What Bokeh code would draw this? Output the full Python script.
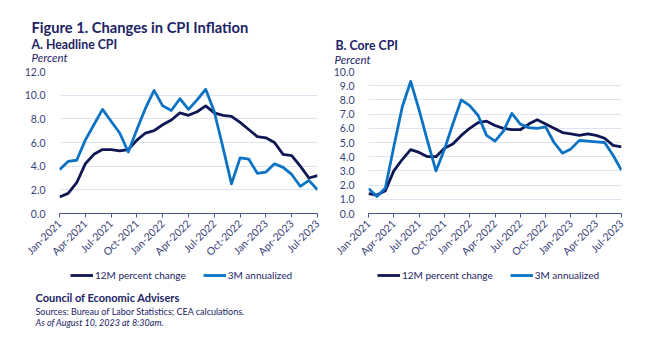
import math
import pandas as pd
from bokeh.plotting import figure
from bokeh.models import (FixedTicker, Legend, LegendItem, Label, Range1d,
                          PrintfTickFormatter)
from bokeh.layouts import row, column
from bokeh.embed import file_html
from bokeh.resources import INLINE

months = pd.date_range("2021-01-01", "2023-07-01", freq="MS")
month_labels = [d.strftime("%b-%Y") for d in months]
tick_every = 3

headline_12m = [1.4, 1.7, 2.6, 4.2, 5.0, 5.4, 5.4, 5.3, 5.4, 6.2, 6.8, 7.0,
                7.5, 7.9, 8.5, 8.3, 8.6, 9.1, 8.5, 8.3, 8.2, 7.7, 7.1, 6.5,
                6.4, 6.0, 5.0, 4.9, 4.0, 3.0, 3.2]
headline_3m = [3.7, 4.4, 4.5, 6.2, 7.5, 8.8, 7.8, 6.8, 5.2, 7.1, 8.9, 10.4,
               9.1, 8.7, 9.7, 8.8, 9.6, 10.5, 8.6, 5.6, 2.5, 4.7, 4.6, 3.4,
               3.5, 4.2, 3.9, 3.3, 2.3, 2.8, 2.0]
core_12m = [1.4, 1.3, 1.6, 3.0, 3.8, 4.5, 4.3, 4.0, 4.0, 4.6, 4.9, 5.5,
            6.0, 6.4, 6.5, 6.2, 6.0, 5.9, 5.9, 6.3, 6.6, 6.3, 6.0, 5.7,
            5.6, 5.5, 5.6, 5.5, 5.3, 4.8, 4.7]
core_3m = [1.75, 1.2, 1.8, 4.7, 7.5, 9.3, 7.3, 5.1, 3.0, 4.5, 6.3, 8.0,
           7.6, 6.9, 5.5, 5.1, 5.8, 7.05, 6.3, 6.05, 6.0, 6.1, 5.0, 4.25,
           4.55, 5.15, 5.1, 5.05, 5.0, 4.1, 3.05]

series_names = ["12M percent change", "3M annualized"]

NAVY = "#0e1654"
BLUE = "#0b72c4"
TEXT = "#1c2366"
TICK_TEXT = "#3a3f78"
GRID = "#dfe3ef"
FONT = "Lato"
LW = 2.8

x_idx = list(range(len(months)))
tick_pos = x_idx[::tick_every]


def text_canvas(width, height):
    p = figure(width=width, height=height, output_backend="svg", toolbar_location=None,
               tools="", x_axis_type=None, y_axis_type=None,
               x_range=Range1d(0, 1), y_range=Range1d(-1, 0),
               min_border=0, min_border_left=0, min_border_right=0,
               min_border_top=0, min_border_bottom=0)
    p.outline_line_color = None
    p.xgrid.grid_line_color = None
    p.ygrid.grid_line_color = None
    p.border_fill_color = "white"
    return p


def add_text(p, x, y, text, size, style="normal"):
    p.add_layout(Label(x=x, y=y, x_units="screen", y_units="screen", text=text,
                       text_font=FONT, text_font_size=size, text_font_style=style,
                       text_color=TEXT, text_baseline="alphabetic"))


def make_fig(width, min_left, min_right, ymax, ystep, s12, s3):
    p = figure(width=width, height=199, output_backend="svg", toolbar_location=None,
               tools="", x_range=Range1d(0, len(months) - 1), y_range=Range1d(0, ymax),
               min_border_left=min_left, min_border_right=min_right,
               min_border_top=5, min_border_bottom=50)
    p.outline_line_color = None
    p.background_fill_color = "white"
    p.border_fill_color = "white"
    p.xgrid.grid_line_color = None
    p.ygrid.grid_line_color = GRID
    p.ygrid.grid_line_width = 1.2

    p.yaxis.ticker = FixedTicker(ticks=[i * ystep for i in range(int(round(ymax / ystep)) + 1)])
    p.yaxis.formatter = PrintfTickFormatter(format="%.1f")
    p.yaxis.axis_line_color = None
    p.yaxis.major_tick_line_color = None
    p.yaxis.minor_tick_line_color = None
    p.yaxis.major_label_text_font = FONT
    p.yaxis.major_label_text_font_size = "10.5px"
    p.yaxis.major_label_text_color = TICK_TEXT
    p.yaxis.major_label_standoff = 8

    p.xaxis.ticker = FixedTicker(ticks=tick_pos)
    p.xaxis.major_label_overrides = {i: month_labels[i] for i in tick_pos}
    p.xaxis.major_label_orientation = math.pi / 4
    p.xaxis.axis_line_color = "#4a5290"
    p.xaxis.axis_line_width = 1.2
    p.xaxis.major_tick_line_color = "#4a5290"
    p.xaxis.major_tick_in = 0
    p.xaxis.major_tick_out = 4
    p.xaxis.minor_tick_line_color = None
    p.xaxis.major_label_text_font = FONT
    p.xaxis.major_label_text_font_size = "10.5px"
    p.xaxis.major_label_text_color = TICK_TEXT
    p.xaxis.major_label_standoff = 4

    p.line(x_idx, s12, line_color=NAVY, line_width=LW, line_join="round")
    p.line(x_idx, s3, line_color=BLUE, line_width=LW, line_join="round")
    return p


# header
head = text_canvas(641, 66)
add_text(head, 31, 39.3, "Figure 1. Changes in CPI Inflation", "14.7px", "bold")
add_text(head, 31, 22.3, "A. Headline CPI", "12.3px", "bold")
add_text(head, 31, 9, "Percent", "11.5px", "italic")
add_text(head, 335, 21, "B. Core CPI", "12.3px", "bold")
add_text(head, 334, 7.3, "Percent", "11.5px", "italic")

# charts
p1 = make_fig(330, 59, 13, 12, 2, headline_12m, headline_3m)
p2 = make_fig(311, 32, 20, 10, 1, core_12m, core_3m)

# footer with legends and source notes (legend keys use the series' styles;
# the footer's y-range keeps their data out of view)
foot = text_canvas(641, 90)
k1 = foot.line(x_idx, headline_12m, line_color=NAVY, line_width=LW)
k2 = foot.line(x_idx, headline_3m, line_color=BLUE, line_width=LW)


def add_legend(p, vx, vy):
    leg = Legend(items=[LegendItem(label=series_names[0], renderers=[k1]),
                        LegendItem(label=series_names[1], renderers=[k2])],
                 orientation="horizontal", location=(vx, vy))
    leg.glyph_width = 23
    leg.glyph_height = 14
    leg.label_height = 14
    leg.label_standoff = 2
    leg.spacing = 17
    leg.padding = 0
    leg.margin = 0
    leg.border_line_color = None
    leg.background_fill_alpha = 0
    leg.label_text_font = FONT
    leg.label_text_font_size = "10px"
    leg.label_text_color = TEXT
    p.add_layout(leg, "center")


add_legend(foot, 70, 73)
add_legend(foot, 377, 73)

add_text(foot, 35, 58.5, "Council of Economic Advisers", "11px", "bold")
add_text(foot, 35, 44.5, "Sources: Bureau of Labor Statistics; CEA calculations.", "9px")
add_text(foot, 35, 33.5, "As of August 10, 2023 at 8:30am.", "9px", "italic")

layout = column(head, row(p1, p2), foot)
open("out.html", "w").write(file_html(layout, INLINE))
